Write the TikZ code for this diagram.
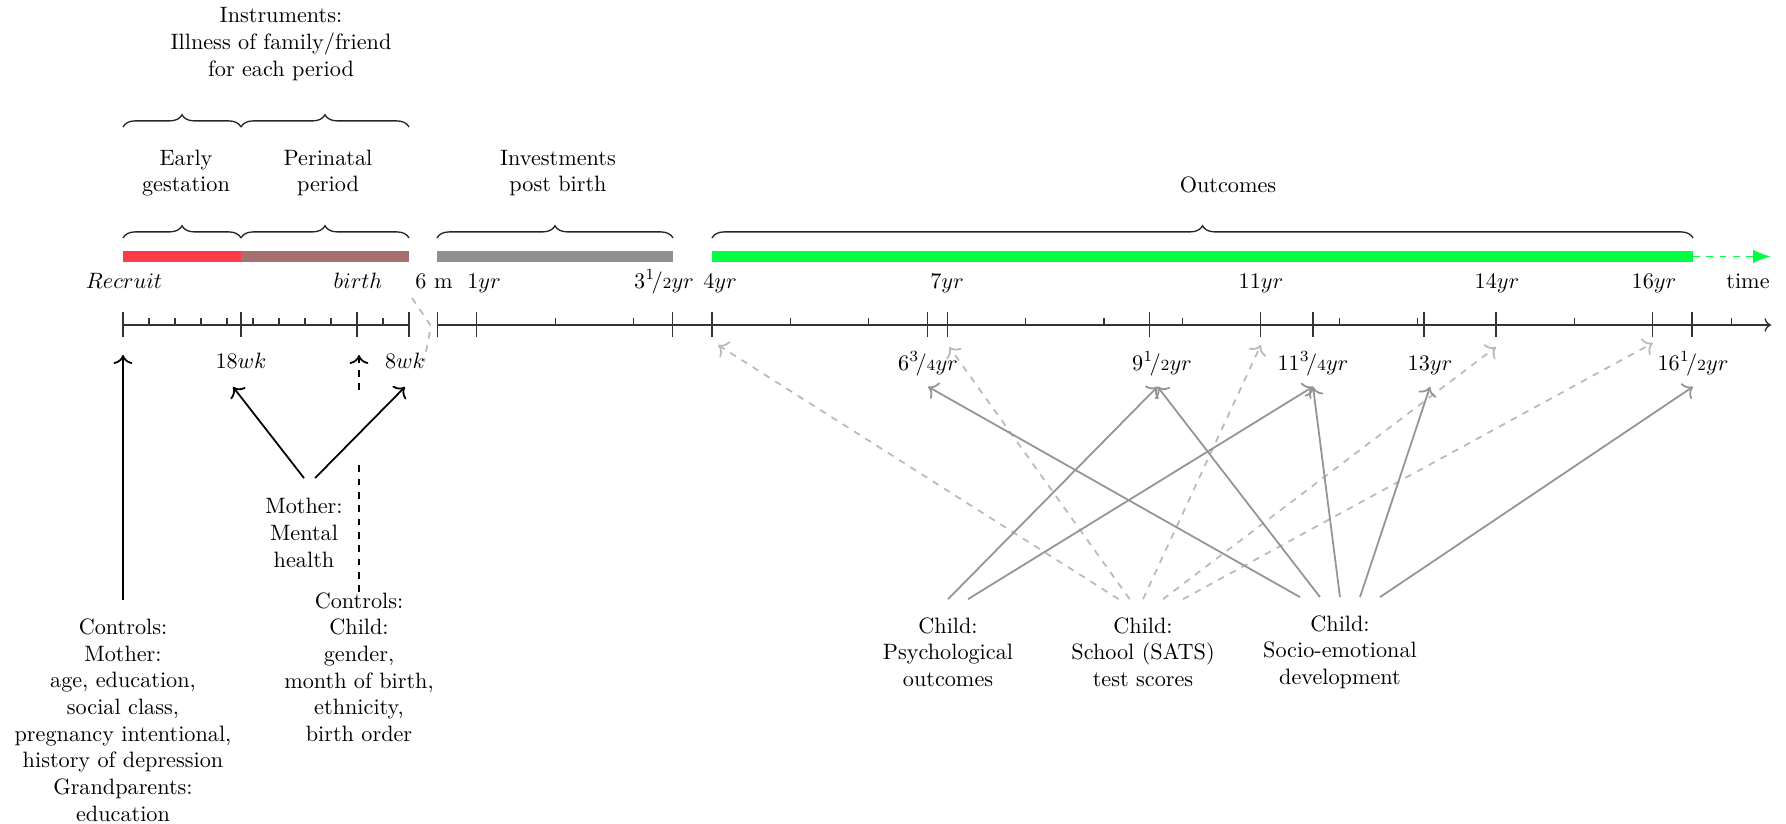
\documentclass[tikz,border=0pt]{standalone}
\usepackage{tikz}
\usetikzlibrary{arrows.meta,decorations.pathreplacing,calc,positioning}
\definecolor{earlyred}{RGB}{255,59,72}
\definecolor{peribrown}{RGB}{166,112,112}
\definecolor{investgray}{RGB}{144,144,144}
\definecolor{outgreen}{RGB}{0,255,66}
\newcommand{\nfr}[2]{{}^{#1}\!/{\scriptstyle #2}}

\begin{document}
\begin{tikzpicture}[
    x=0.45pt, y=-0.45pt,
    lab/.style={anchor=base, inner sep=0pt},
    txt/.style={align=center, inner sep=0pt},
    periodbrace/.style={decorate, decoration={brace, amplitude=5.5pt}, black!85, semithick},
    axisline/.style={black!80, semithick},
    blackarrow/.style={-{To[scale=1.2]}, thick, black},
    outarrow/.style={-{To[scale=1.2]}, thick, black!42},
    testarrow/.style={-{To[scale=1.2]}, thick, black!27, dashed},
    ]
    \useasboundingbox (0,0) rectangle (1786,824);

    %Nodes
    \node[txt] (instr)   at (281,44)  {Instruments:\\Illness of family/friend\\for each period};
    \node[txt] (early)   at (186,173) {Early\\gestation};
    \node[txt] (peri)    at (328,173) {Perinatal\\period};
    \node[txt] (invest)  at (558,173) {Investments\\post birth};
    \node[lab] (outc)    at (1228,193) {Outcomes};

    \node[txt] (mother)  at (304,533) {Mother:\\Mental\\health};
    \node[txt] (cmother) at (123,720) {Controls:\\Mother:\\age, education,\\social class,\\pregnancy intentional,\\history of depression\\Grandparents:\\education};
    \node[txt] (cchild)  at (359,667) {Controls:\\Child:\\gender,\\month of birth,\\ethnicity,\\birth order};
    \node[txt] (psych)   at (948,652) {Child:\\Psychological\\outcomes};
    \node[txt] (school)  at (1143,652) {Child:\\School (SATS)\\test scores};
    \node[txt] (socio)   at (1340,652) {Child:\\Socio-emotional\\development};

    %Bars and braces
    \fill[earlyred]   (123,251) rectangle (241,262);
    \fill[peribrown]  (241,251) rectangle (409,262);
    \fill[investgray] (437,251) rectangle (673,262);
    \fill[outgreen]   (712,251) rectangle (1693,262);
    \draw[outgreen, thick, dashed, -{Latex[length=8pt]}] (1693,256.5) -- (1771,256.5);

    \draw[periodbrace] (123,127) -- (241,127);
    \draw[periodbrace] (241,127) -- (409,127);
    \draw[periodbrace] (123,238) -- (241,238);
    \draw[periodbrace] (241,238) -- (409,238);
    \draw[periodbrace] (437,238) -- (673,238);
    \draw[periodbrace] (712,238) -- (1693,238);

    %Axis
    \coordinate (rec) at (123,325);
    \coordinate (w18) at (241,325);
    \coordinate (bir) at (357,325);
    \coordinate (w8)  at (409,325);
    \draw[axisline] (rec) -- (w8);
    \draw[axisline, ->] (437,325) -- (1771,325);
    \foreach \i in {1,...,8,10}
        \draw[axisline] (123+26*\i,325) -- ++(0,-7);
    \foreach \t in {2,3,5,6,8,9,10,12,13,15,17}
        \draw[axisline] ({398.4+78.4*\t},325) -- ++(0,-7);
    \foreach \t/\n in {0.5/m6, 1/y1, 3.5/y3h, 4/y4, 6.75/y6q, 7/y7, 9.5833/y9h, 11/y11,
                       11.6667/y11q, 13.0833/y13, 14/y14, 16/y16, 16.5/y16h}
        \coordinate (\n) at ({398.4+78.4*\t},325);
    \foreach \n in {rec, w18, bir, w8, m6, y1, y3h, y4, y6q, y7, y9h, y11, y11q, y13, y14, y16, y16h}
        \draw[axisline] ($(\n)+(0,-13)$) -- ($(\n)+(0,12)$);
    \draw[black!27, thick, dashed] (412,298) -- (431,326) -- (424,362);

    %Labels
    \node[lab] (lrec)  at (124,288)  {$Recruit$};
    \node[lab] (lbir)  at (358,288)  {$birth$};
    \node[lab] (lm6)   at (434,288)  {6 m};
    \node[lab] (ly1)   at (484,288)  {$1yr$};
    \node[lab] (ly3h)  at (664,288)  {$3\nfr{1}{2}yr$};
    \node[lab] (ly4)   at (720,288)  {$4yr$};
    \node[lab] (ly7)   at (947,288)  {$7yr$};
    \node[lab] (ly11)  at (1261,288) {$11yr$};
    \node[lab] (ly14)  at (1497,288) {$14yr$};
    \node[lab] (ly16)  at (1654,288) {$16yr$};
    \node[lab] (ltime) at (1748,288) {time};

    \node[lab] (lw18)  at (241,368)  {$18wk$};
    \node[lab] (lw8)   at (405,368)  {$8wk$};
    \node[lab] (ly6q)  at (928,370)  {$6\nfr{3}{4}yr$};
    \node[lab] (ly9h)  at (1162,370) {$9\nfr{1}{2}yr$};
    \node[lab] (ly11q) at (1313,370) {$11\nfr{3}{4}yr$};
    \node[lab] (ly13)  at (1430,370) {$13yr$};
    \node[lab] (ly16h) at (1693,370) {$16\nfr{1}{2}yr$};

    %Lines
    \coordinate (gaplo)  at (359,460);
    \coordinate (gaphi)  at (359,390);
    \coordinate (birtip) at (359,355);
    \draw[blackarrow] ([yshift=8pt]cmother.north) -- ($(rec)+(0,30)$);
    \draw[blackarrow] ([yshift=9pt]mother.north) -- ([xshift=-3.6pt,yshift=-8.5pt]lw18.base);
    \draw[blackarrow] ([xshift=5pt,yshift=9pt]mother.north) -- ([yshift=-8.5pt]lw8.base);
    \draw[thick, dashed] (cchild.north) -- (gaplo);
    \draw[blackarrow, dashed] (gaphi) -- (birtip);

    \draw[testarrow] ([xshift=-11pt,yshift=8pt]school.north) -- ($(y4)+(6,20)$);
    \draw[testarrow] ([xshift=-6pt,yshift=8pt]school.north)  -- ($(y7)+(2,22)$);
    \draw[testarrow] ([yshift=8pt]school.north)              -- ($(y11)+(0,20)$);
    \draw[testarrow] ([xshift=9pt,yshift=8pt]school.north)   -- ($(y14)+(0,22)$);
    \draw[testarrow] ([xshift=18pt,yshift=8pt]school.north)  -- ($(y16)+(0,18)$);

    \draw[outarrow] ([yshift=8pt]psych.north)                -- ([xshift=-2pt,yshift=-7.5pt]ly9h.base);
    \draw[outarrow] ([xshift=9pt,yshift=8pt]psych.north)     -- ([yshift=-7.5pt]ly11q.base);
    \draw[outarrow] ([xshift=-18pt,yshift=8pt]socio.north)   -- ([yshift=-7.5pt]ly6q.base);
    \draw[outarrow] ([xshift=-9pt,yshift=8pt]socio.north)    -- ([xshift=-2pt,yshift=-7.5pt]ly9h.base);
    \draw[outarrow] ([yshift=8pt]socio.north)                -- ([yshift=-7.5pt]ly11q.base);
    \draw[outarrow] ([xshift=9pt,yshift=8pt]socio.north)     -- ([yshift=-7.5pt]ly13.base);
    \draw[outarrow] ([xshift=18pt,yshift=8pt]socio.north)    -- ([yshift=-7.5pt]ly16h.base);
\end{tikzpicture}
\end{document}
